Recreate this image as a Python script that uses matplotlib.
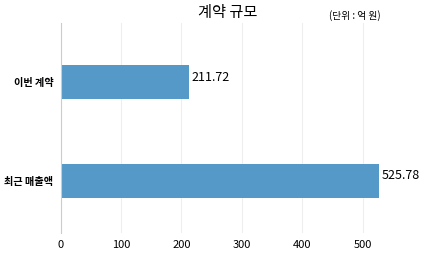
import matplotlib.pyplot as plt

plt.rcParams['font.family'] = ['Noto Sans CJK KR', 'DejaVu Sans']

categories = ['최근 매출액', '이번 계약']
values = [525.78, 211.72]
xticks = [0, 100, 200, 300, 400, 500]

fig = plt.figure(figsize=(4.26, 2.6), dpi=100)
ax = fig.add_axes([60.5 / 426, 27 / 260, 340 / 426, 210 / 260])

ax.barh(range(len(categories)), values, height=0.34, color='#5499c7', zorder=2)
for i, v in enumerate(values):
    ax.text(v + 5, i + 0.05, f'{v:.2f}', va='center', ha='left', fontsize=9)

ax.set_yticks(range(len(categories)))
ax.set_yticklabels(categories, fontsize=7.3, fontweight='bold')
ax.set_xticks(xticks)
ax.set_xticklabels([str(t) for t in xticks], fontsize=8)
ax.tick_params(axis='y', length=0, pad=5)
ax.tick_params(axis='x', length=0, pad=5)
ax.set_xlim(0, 562)
ax.set_ylim(-0.53, 1.6)
ax.grid(axis='x', color='#eeeeee', linewidth=0.8, zorder=0)
for s in ['top', 'right', 'bottom']:
    ax.spines[s].set_visible(False)
ax.spines['left'].set_color('#cccccc')
ax.spines['left'].set_linewidth(0.8)

fig.text(228 / 426, 1 - 13 / 260, '계약 규모', ha='center', va='center', fontsize=11)
fig.text(355 / 426, 1 - 16 / 260, '(단위 : 억 원)', ha='center', va='center', fontsize=7)

fig.savefig('out.png', dpi=100)
